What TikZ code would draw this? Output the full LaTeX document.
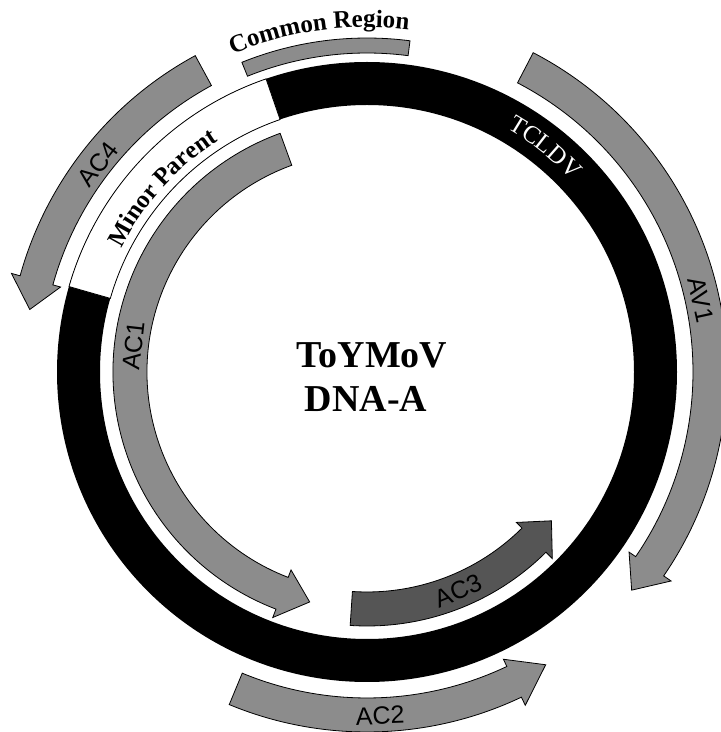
\documentclass[tikz,border=0pt]{standalone}
\usepackage{fontspec}
\setmainfont{Liberation Serif}
\newfontfamily\arialfont{Liberation Sans}
\usepackage{tikz}
\usetikzlibrary{decorations.text}
\definecolor{genegray}{HTML}{8C8C8C}
\definecolor{genedark}{HTML}{555555}

\begin{document}
\begin{tikzpicture}[x=1pt,y=1pt]
%\draw[gray,very thin] (0,0) grid (721,732);
\tikzstyle{gene} = [draw=black, fill=genegray, line width=0.8pt, line join=miter]
\tikzstyle{darkgene} = [gene, fill=genedark]
\tikzstyle{genelabel} = [font=\arialfont\fontsize{25}{25}\selectfont, inner sep=0pt]
\tikzstyle{titlelabel} = [font=\bfseries\fontsize{38}{38}\selectfont, inner sep=0pt]
\useasboundingbox (0,0) rectangle (721,732);
\begin{scope}[shift={(367,360)}]
%Genome ring and recombinant segment
\fill[black, even odd rule] (0,0) circle (310) (0,0) circle (267);
\draw[fill=white, line width=0.8pt] (109:267) arc (109:164:267) -- (164:310) arc (164:109:310) -- cycle;
%Common region bar
\draw[gene] (112:319) arc (112:82.6:319) -- (82.6:334) arc (82.6:112:334) -- cycle;
%Outer genes
\draw[gene] (62.5:326) arc (62.5:-34.5:326) -- (-34.5:318) -- (-39.5:343) -- (-34.5:369) -- (-34.5:360) arc (-34.5:62.5:360) -- cycle;
\draw[gene] (118.5:326) arc (118.5:164.5:326) -- (164.5:318) -- (169.5:343) -- (164.5:369) -- (164.5:360) arc (164.5:118.5:360) -- cycle;
\draw[gene] (-112.5:326) arc (-112.5:-64.6:326) -- (-64.6:318) -- (-58.6:343) -- (-64.6:369) -- (-64.6:360) arc (-64.6:-112.5:360) -- cycle;
%Inner genes
\draw[gene] (110:220) arc (110:249:220) -- (249:212) -- (256:237) -- (249:263) -- (249:254) arc (249:110:254) -- cycle;
\draw[darkgene] (-93.8:220) arc (-93.8:-45.2:220) -- (-45.2:212) -- (-38.9:237) -- (-45.2:263) -- (-45.2:254) arc (-45.2:-93.8:254) -- cycle;
%Curved labels
\path[decorate, decoration={text along path, text align=center, text={|\bfseries\fontsize{25}{25}\selectfont|Common Region}}] (140:345) arc (140:56:345);
\path[decorate, decoration={text along path, text align=center, text={|\bfseries\fontsize{25}{25}\selectfont|Minor Parent}}] (166:275) arc (166:110:275);
\path[decorate, decoration={text along path, text align=center, text={|\color{white}\fontsize{25}{25}\selectfont|TCLDV}}] (81.6:281) arc (81.6:21.6:281);
%Gene labels
\node[genelabel, rotate=52.3] (ac4) at (142.3:340) {AC4};
\node[genelabel, rotate=83.6] (ac1) at (173.6:234.5) {AC1};
\node[genelabel, rotate=-77.8] (av1) at (12.2:341.7) {AV1};
\node[genelabel, rotate=22.6] (ac3) at (-67.4:237) {AC3};
\node[genelabel, rotate=2.2] (ac2) at (-87.8:344) {AC2};
%Title
\node[titlelabel] (virus) at (5,17) {ToYMoV};
\node[titlelabel] (dna) at (-1,-27) {DNA-A};
\end{scope}
\end{tikzpicture}
\end{document}
